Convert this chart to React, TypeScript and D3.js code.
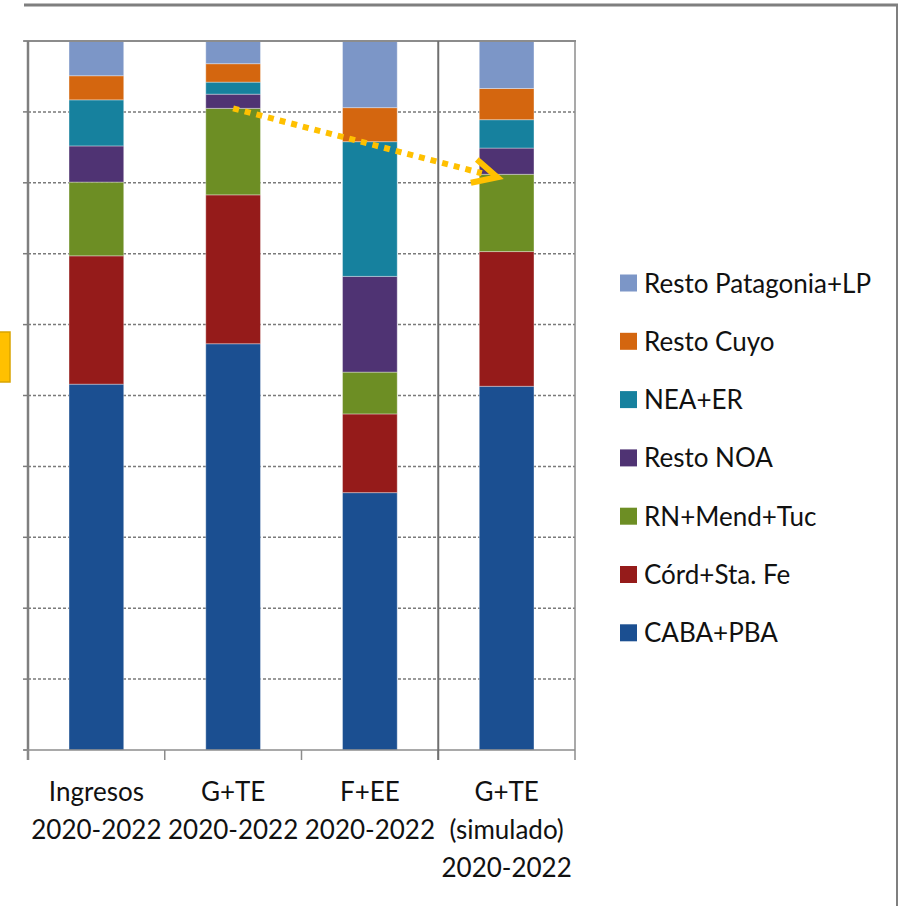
import React from "react";
import * as d3 from "d3";

// regional shares (%) per concept
const categories = ["Ingresos", "G+TE", "F+EE", "G+TE sim"];
const labelLines = [
  ["Ingresos", "2020-2022"],
  ["G+TE", "2020-2022"],
  ["F+EE", "2020-2022"],
  ["G+TE", "(simulado)", "2020-2022"],
];
const regions = [
  "CABA+PBA",
  "Córd+Sta. Fe",
  "RN+Mend+Tuc",
  "Resto NOA",
  "NEA+ER",
  "Resto Cuyo",
  "Resto Patagonia+LP",
];
const cabaPba = [51.6, 57.3, 36.3, 51.3];
const cordStaFe = [18.1, 21.0, 11.1, 19.0];
const rnMendTuc = [10.4, 12.2, 5.9, 10.9];
const restoNoa = [5.1, 2.0, 13.5, 3.7];
const neaEr = [6.5, 1.7, 19.0, 4.0];
const restoCuyo = [3.4, 2.6, 4.8, 4.4];
const restoPatagonia = [4.9, 3.2, 9.4, 6.7];
const yTicks = [0, 10, 20, 30, 40, 50, 60, 70, 80, 90, 100];

const colors = [
  "#1B4F91",
  "#951B1A",
  "#6D8E24",
  "#4F3373",
  "#16819E",
  "#D4660F",
  "#7C96C7",
];

const W = 900;
const H = 906;
const left = 28;
const right = 575;
const top = 41;
const bottom = 750;
const font = "Lato, 'Open Sans', sans-serif";
const fs = 26;
const gold = "#FFC000";

const series = [cabaPba, cordStaFe, rnMendTuc, restoNoa, neaEr, restoCuyo, restoPatagonia];
const rows = categories.map((c, i) => {
  const r: any = { cat: c };
  regions.forEach((k, j) => (r[k] = series[j][i]));
  return r;
});
const stacked = d3.stack<any>().keys(regions)(rows);

const x = d3.scaleBand().domain(categories).range([left, right]).padding(0);
const y = d3.scaleLinear().domain([0, 100]).range([bottom, top]);
const barW = x.bandwidth() * 0.4;

const App = () => {
  // arrow from G+TE green top to simulated G+TE green top
  const rnIdx = regions.indexOf("RN+Mend+Tuc");
  const x0 = (x("G+TE") as number) + x.bandwidth() / 2;
  const y0 = y(stacked[rnIdx][1][1]);
  const barL4 = (x("G+TE sim") as number) + (x.bandwidth() - barW) / 2;
  const x1 = barL4 + 18;
  const y1 = y(stacked[rnIdx][3][1]) + 3;
  const ang = Math.atan2(y1 - y0, x1 - x0);
  const head = 27;
  const spread = 0.46;
  const lineEnd: [number, number] = [x1 - 16 * Math.cos(ang), y1 - 16 * Math.sin(ang)];

  return (
    <div style={{ position: "absolute", left: 0, top: 0 }}>
      <svg width={W} height={H} style={{ display: "block", background: "#fff" }}>
        {/* outer frame */}
        <line x1={24} x2={898} y1={5} y2={5} stroke="#7f7f7f" strokeWidth={3} />
        <line x1={897} x2={897} y1={4} y2={H} stroke="#7f7f7f" strokeWidth={2} />

        {/* gridlines */}
        {yTicks.slice(1, -1).map((t) => (
          <line
            key={t}
            x1={left}
            x2={right}
            y1={y(t)}
            y2={y(t)}
            stroke="#7a7a7a"
            strokeWidth={1.5}
            strokeDasharray="3,2"
          />
        ))}
        {/* left ticks */}
        {yTicks.map((t) => (
          <line key={"t" + t} x1={23} x2={left} y1={y(t)} y2={y(t)} stroke="#7a7a7a" strokeWidth={1.5} />
        ))}

        {/* bars */}
        {stacked.map((s, j) => (
          <g key={regions[j]} fill={colors[j]}>
            {s.map((d, i) => (
              <rect
                key={i}
                x={(x(categories[i]) as number) + (x.bandwidth() - barW) / 2}
                y={y(d[1])}
                width={barW}
                height={y(d[0]) - y(d[1])}
                stroke="rgba(255,255,255,0.35)"
                strokeWidth={1}
              />
            ))}
          </g>
        ))}

        {/* plot frame */}
        <line x1={24} x2={right + 1} y1={top} y2={top} stroke="#8c8c8c" strokeWidth={2} />
        <line x1={right} x2={right} y1={top} y2={760} stroke="#8c8c8c" strokeWidth={1.5} />
        <line x1={left} x2={left} y1={top} y2={bottom + 10} stroke="#7f7f7f" strokeWidth={2.5} />
        <line x1={24} x2={right} y1={bottom} y2={bottom} stroke="#8c8c8c" strokeWidth={1.5} />
        {categories.map((c) => (
          <line
            key={"xt" + c}
            x1={x(c) as number}
            x2={x(c) as number}
            y1={bottom}
            y2={760}
            stroke="#8c8c8c"
            strokeWidth={1.5}
          />
        ))}
        <line
          x1={x("G+TE sim") as number}
          x2={x("G+TE sim") as number}
          y1={top}
          y2={760}
          stroke="#6f6f6f"
          strokeWidth={2}
        />

        {/* category labels */}
        {categories.map((c, i) => (
          <text
            key={"l" + c}
            x={(x(c) as number) + x.bandwidth() / 2}
            y={801}
            textAnchor="middle"
            fontFamily={font}
            fontSize={fs}
            fill="#111"
          >
            {labelLines[i].map((ln, k) => (
              <tspan key={k} x={(x(c) as number) + x.bandwidth() / 2} dy={k === 0 ? 0 : 38}>
                {ln}
              </tspan>
            ))}
          </text>
        ))}

        {/* legend */}
        {regions
          .map((r, j) => ({ r, j }))
          .reverse()
          .map(({ r, j }, k) => {
            const cy = 283 + k * 58.3;
            return (
              <g key={"lg" + r}>
                <rect x={620} y={cy - 8.5} width={17} height={17} fill={colors[j]} />
                <text x={644} y={cy + 9.5} fontFamily={font} fontSize={fs} fill="#111">
                  {r}
                </text>
              </g>
            );
          })}

        {/* left highlight box */}
        <rect x={-2} y={332} width={12} height={50} fill={gold} stroke="#D9A400" strokeWidth={1.5} />

        {/* arrow */}
        <line
          x1={x0}
          y1={y0}
          x2={lineEnd[0]}
          y2={lineEnd[1]}
          stroke={gold}
          strokeWidth={6}
          strokeDasharray="6,6"
        />
        <path
          d={`M${x1 - head * Math.cos(ang - spread)},${y1 - head * Math.sin(ang - spread)} L${x1},${y1} L${
            x1 - head * Math.cos(ang + spread)
          },${y1 - head * Math.sin(ang + spread)}`}
          fill="none"
          stroke={gold}
          strokeWidth={6}
          strokeLinejoin="miter"
        />
      </svg>
    </div>
  );
};

export default App;
